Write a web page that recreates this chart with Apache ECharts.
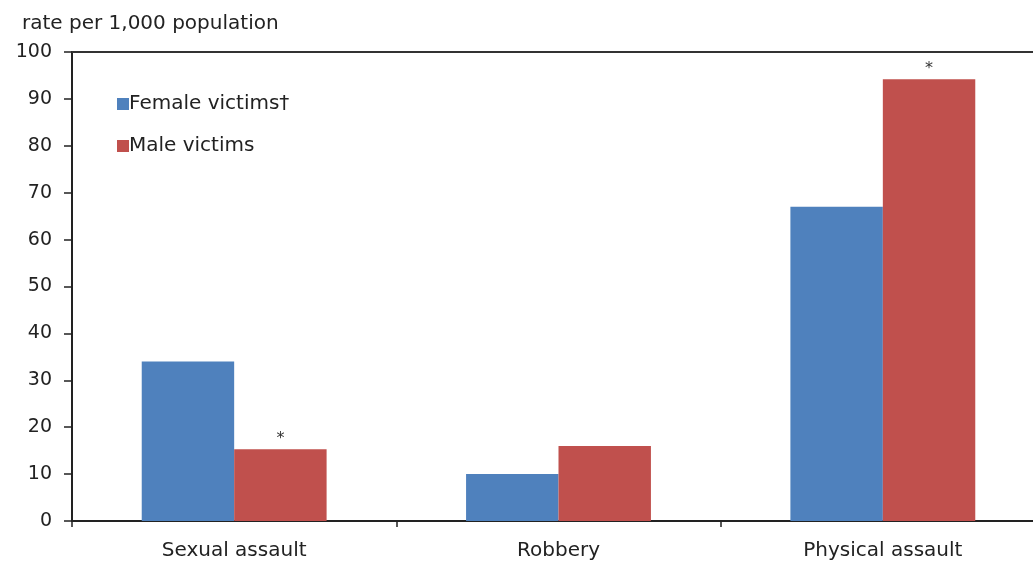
<!DOCTYPE html>
<html><head><meta charset="utf-8">
<script src="https://cdn.jsdelivr.net/npm/echarts@6/dist/echarts.min.js"></script>
<style>html,body{margin:0;padding:0;background:#fff;overflow:hidden;width:1033px;height:561px}#c{width:1045px;height:561px}</style>
</head><body><div id="c"></div>
<script>
const categories = ['Sexual assault', 'Robbery', 'Physical assault'];
const femaleVictims = [34, 10, 67];
const maleVictims = [15.3, 16, 94.2];
const maleSignificant = [true, false, true];
const yTicks = [0, 10, 20, 30, 40, 50, 60, 70, 80, 90, 100];
const FONT = 'DejaVu Sans';

const chart = echarts.init(document.getElementById('c'));
chart.setOption({
  animation: false,
  backgroundColor: '#fff',
  textStyle: {fontFamily: FONT},
  title: {text: 'rate per 1,000 population', left: 17, top: 9,
    textStyle: {fontFamily: FONT, fontSize: 20, fontWeight: 'normal', color: '#222'}},
  legend: {orient: 'vertical', left: 112, top: 89, itemWidth: 12, itemHeight: 12, itemGap: 22,
    icon: 'rect', textStyle: {fontFamily: FONT, fontSize: 20, color: '#222', padding: [0,0,0,-5]},
    data: ['Female victims†', 'Male victims']},
  grid: {left: 72, top: 52, right: 0, bottom: 40},
  xAxis: [{type: 'category', data: categories,
    axisLine: {lineStyle: {color: '#222', width: 2}},
    axisTick: {show: true, length: 6, inside: false, lineStyle: {color: '#222', width: 1.5}},
    axisLabel: {fontFamily: FONT, fontSize: 20, color: '#222', margin: 20}},
   {type: 'category', data: categories, position: 'top',
    axisLine: {show: true, lineStyle: {color: '#333', width: 2}},
    axisTick: {show: false}, axisLabel: {show: false}}],
  yAxis: {type: 'value', min: yTicks[0], max: yTicks[yTicks.length-1], interval: 10,
    axisLine: {show: true, lineStyle: {color: '#222', width: 2}},
    axisTick: {show: true, length: 8, lineStyle: {color: '#222', width: 1.5}},
    splitLine: {show: false},
    axisLabel: {fontFamily: FONT, fontSize: 19, color: '#222', margin: 20}},
  series: [
    {name: 'Female victims†', type: 'bar', data: femaleVictims, barGap: '0%', barCategoryGap: '43%',
     itemStyle: {color: '#4F81BD'}},
    {name: 'Male victims', type: 'bar', data: maleVictims, barGap: '0%', barCategoryGap: '43%',
     itemStyle: {color: '#C0504D'},
     label: {show: true, position: 'top', distance: 2, fontFamily: FONT, fontSize: 16, color: '#333',
       formatter: p => maleSignificant[p.dataIndex] ? '*' : ''}}
  ]
});
</script></body></html>
